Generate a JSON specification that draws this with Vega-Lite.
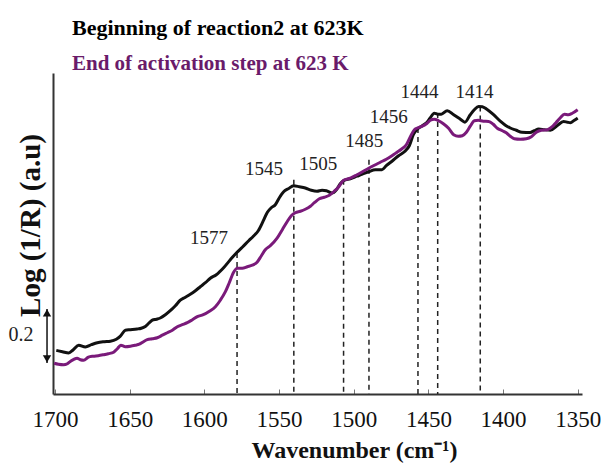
{
  "$schema": "https://vega.github.io/schema/vega-lite/v6.json",
  "width": 529,
  "height": 321,
  "autosize": "none",
  "padding": {"left": 53, "top": 73, "right": 29, "bottom": 69},
  "background": "white",
  "title": {
    "text": "Beginning of reaction2 at 623K",
    "subtitle": "End of activation step at 623 K",
    "anchor": "start",
    "frame": "group",
    "dx": 19,
    "offset": -2,
    "font": "Liberation Serif",
    "fontSize": 22,
    "fontWeight": "bold",
    "color": "#000000",
    "subtitleFont": "Liberation Serif",
    "subtitleFontSize": 21,
    "subtitleFontWeight": "bold",
    "subtitleColor": "#6A1B6A",
    "subtitlePadding": 13
  },
  "config": {"view": {"stroke": null}},
  "datasets": {
    "spectra": [
      {"wn": 1699.1, "val": 0.1615, "s": "Beginning"},
      {"wn": 1695.0, "val": 0.1567, "s": "Beginning"},
      {"wn": 1690.8, "val": 0.1519, "s": "Beginning"},
      {"wn": 1687.7, "val": 0.164, "s": "Beginning"},
      {"wn": 1684.1, "val": 0.1807, "s": "Beginning"},
      {"wn": 1679.6, "val": 0.1741, "s": "Beginning"},
      {"wn": 1675.6, "val": 0.1826, "s": "Beginning"},
      {"wn": 1671.6, "val": 0.19, "s": "Beginning"},
      {"wn": 1666.9, "val": 0.1937, "s": "Beginning"},
      {"wn": 1662.9, "val": 0.1956, "s": "Beginning"},
      {"wn": 1658.9, "val": 0.203, "s": "Beginning"},
      {"wn": 1656.2, "val": 0.2141, "s": "Beginning"},
      {"wn": 1652.9, "val": 0.2363, "s": "Beginning"},
      {"wn": 1649.5, "val": 0.2381, "s": "Beginning"},
      {"wn": 1645.0, "val": 0.2407, "s": "Beginning"},
      {"wn": 1642.2, "val": 0.2437, "s": "Beginning"},
      {"wn": 1639.5, "val": 0.2504, "s": "Beginning"},
      {"wn": 1636.8, "val": 0.2641, "s": "Beginning"},
      {"wn": 1634.8, "val": 0.2733, "s": "Beginning"},
      {"wn": 1632.1, "val": 0.277, "s": "Beginning"},
      {"wn": 1629.5, "val": 0.2815, "s": "Beginning"},
      {"wn": 1626.1, "val": 0.2937, "s": "Beginning"},
      {"wn": 1622.8, "val": 0.3085, "s": "Beginning"},
      {"wn": 1619.4, "val": 0.327, "s": "Beginning"},
      {"wn": 1616.1, "val": 0.3474, "s": "Beginning"},
      {"wn": 1612.7, "val": 0.3585, "s": "Beginning"},
      {"wn": 1609.4, "val": 0.3696, "s": "Beginning"},
      {"wn": 1606.0, "val": 0.3826, "s": "Beginning"},
      {"wn": 1602.7, "val": 0.3974, "s": "Beginning"},
      {"wn": 1599.3, "val": 0.4122, "s": "Beginning"},
      {"wn": 1596.0, "val": 0.4289, "s": "Beginning"},
      {"wn": 1592.0, "val": 0.4419, "s": "Beginning"},
      {"wn": 1587.1, "val": 0.4678, "s": "Beginning"},
      {"wn": 1582.6, "val": 0.4974, "s": "Beginning"},
      {"wn": 1578.1, "val": 0.5252, "s": "Beginning"},
      {"wn": 1574.6, "val": 0.5437, "s": "Beginning"},
      {"wn": 1570.3, "val": 0.5678, "s": "Beginning"},
      {"wn": 1567.2, "val": 0.5844, "s": "Beginning"},
      {"wn": 1563.9, "val": 0.6048, "s": "Beginning"},
      {"wn": 1560.5, "val": 0.6419, "s": "Beginning"},
      {"wn": 1557.8, "val": 0.6733, "s": "Beginning"},
      {"wn": 1555.2, "val": 0.69, "s": "Beginning"},
      {"wn": 1552.5, "val": 0.7011, "s": "Beginning"},
      {"wn": 1549.8, "val": 0.727, "s": "Beginning"},
      {"wn": 1546.9, "val": 0.7493, "s": "Beginning"},
      {"wn": 1543.8, "val": 0.7604, "s": "Beginning"},
      {"wn": 1540.2, "val": 0.7715, "s": "Beginning"},
      {"wn": 1536.4, "val": 0.7678, "s": "Beginning"},
      {"wn": 1532.4, "val": 0.763, "s": "Beginning"},
      {"wn": 1528.4, "val": 0.7548, "s": "Beginning"},
      {"wn": 1524.6, "val": 0.7511, "s": "Beginning"},
      {"wn": 1521.2, "val": 0.7548, "s": "Beginning"},
      {"wn": 1518.3, "val": 0.753, "s": "Beginning"},
      {"wn": 1514.5, "val": 0.7444, "s": "Beginning"},
      {"wn": 1511.6, "val": 0.7567, "s": "Beginning"},
      {"wn": 1509.0, "val": 0.7789, "s": "Beginning"},
      {"wn": 1506.8, "val": 0.79, "s": "Beginning"},
      {"wn": 1502.3, "val": 0.7974, "s": "Beginning"},
      {"wn": 1497.8, "val": 0.8067, "s": "Beginning"},
      {"wn": 1494.2, "val": 0.8141, "s": "Beginning"},
      {"wn": 1490.0, "val": 0.8233, "s": "Beginning"},
      {"wn": 1485.5, "val": 0.8307, "s": "Beginning"},
      {"wn": 1481.1, "val": 0.8307, "s": "Beginning"},
      {"wn": 1478.2, "val": 0.8456, "s": "Beginning"},
      {"wn": 1474.4, "val": 0.8622, "s": "Beginning"},
      {"wn": 1470.0, "val": 0.8826, "s": "Beginning"},
      {"wn": 1466.1, "val": 0.8974, "s": "Beginning"},
      {"wn": 1462.8, "val": 0.9196, "s": "Beginning"},
      {"wn": 1460.1, "val": 0.9604, "s": "Beginning"},
      {"wn": 1457.1, "val": 0.9826, "s": "Beginning"},
      {"wn": 1454.1, "val": 0.9937, "s": "Beginning"},
      {"wn": 1450.9, "val": 1.0067, "s": "Beginning"},
      {"wn": 1448.7, "val": 1.0233, "s": "Beginning"},
      {"wn": 1446.1, "val": 1.04, "s": "Beginning"},
      {"wn": 1443.7, "val": 1.0363, "s": "Beginning"},
      {"wn": 1441.4, "val": 1.0363, "s": "Beginning"},
      {"wn": 1437.4, "val": 1.0493, "s": "Beginning"},
      {"wn": 1433.1, "val": 1.0344, "s": "Beginning"},
      {"wn": 1428.6, "val": 1.0178, "s": "Beginning"},
      {"wn": 1425.6, "val": 1.0067, "s": "Beginning"},
      {"wn": 1422.0, "val": 1.0344, "s": "Beginning"},
      {"wn": 1419.3, "val": 1.053, "s": "Beginning"},
      {"wn": 1416.4, "val": 1.0652, "s": "Beginning"},
      {"wn": 1413.9, "val": 1.0641, "s": "Beginning"},
      {"wn": 1410.9, "val": 1.0548, "s": "Beginning"},
      {"wn": 1406.4, "val": 1.0344, "s": "Beginning"},
      {"wn": 1401.9, "val": 1.0104, "s": "Beginning"},
      {"wn": 1398.5, "val": 0.9956, "s": "Beginning"},
      {"wn": 1395.2, "val": 0.9852, "s": "Beginning"},
      {"wn": 1391.2, "val": 0.977, "s": "Beginning"},
      {"wn": 1387.4, "val": 0.9696, "s": "Beginning"},
      {"wn": 1381.8, "val": 0.9689, "s": "Beginning"},
      {"wn": 1379.1, "val": 0.9752, "s": "Beginning"},
      {"wn": 1376.2, "val": 0.9815, "s": "Beginning"},
      {"wn": 1372.4, "val": 0.9789, "s": "Beginning"},
      {"wn": 1368.4, "val": 0.977, "s": "Beginning"},
      {"wn": 1363.9, "val": 0.9937, "s": "Beginning"},
      {"wn": 1359.5, "val": 1.0096, "s": "Beginning"},
      {"wn": 1357.0, "val": 1.0067, "s": "Beginning"},
      {"wn": 1355.0, "val": 1.0048, "s": "Beginning"},
      {"wn": 1352.3, "val": 1.0141, "s": "Beginning"},
      {"wn": 1350.1, "val": 1.0222, "s": "Beginning"},
      {"wn": 1700.5, "val": 0.1141, "s": "End"},
      {"wn": 1697.7, "val": 0.1104, "s": "End"},
      {"wn": 1694.2, "val": 0.1085, "s": "End"},
      {"wn": 1691.7, "val": 0.1122, "s": "End"},
      {"wn": 1689.7, "val": 0.1207, "s": "End"},
      {"wn": 1685.2, "val": 0.1326, "s": "End"},
      {"wn": 1683.0, "val": 0.127, "s": "End"},
      {"wn": 1680.8, "val": 0.1252, "s": "End"},
      {"wn": 1677.6, "val": 0.1363, "s": "End"},
      {"wn": 1674.3, "val": 0.14, "s": "End"},
      {"wn": 1671.0, "val": 0.1419, "s": "End"},
      {"wn": 1667.4, "val": 0.1456, "s": "End"},
      {"wn": 1664.3, "val": 0.1493, "s": "End"},
      {"wn": 1660.7, "val": 0.1548, "s": "End"},
      {"wn": 1658.2, "val": 0.1678, "s": "End"},
      {"wn": 1655.9, "val": 0.1807, "s": "End"},
      {"wn": 1652.9, "val": 0.1752, "s": "End"},
      {"wn": 1649.5, "val": 0.177, "s": "End"},
      {"wn": 1646.2, "val": 0.1807, "s": "End"},
      {"wn": 1643.5, "val": 0.1844, "s": "End"},
      {"wn": 1640.8, "val": 0.1937, "s": "End"},
      {"wn": 1638.2, "val": 0.2011, "s": "End"},
      {"wn": 1634.8, "val": 0.2048, "s": "End"},
      {"wn": 1631.5, "val": 0.2085, "s": "End"},
      {"wn": 1628.1, "val": 0.2178, "s": "End"},
      {"wn": 1624.8, "val": 0.227, "s": "End"},
      {"wn": 1621.4, "val": 0.2363, "s": "End"},
      {"wn": 1618.1, "val": 0.2493, "s": "End"},
      {"wn": 1614.7, "val": 0.2567, "s": "End"},
      {"wn": 1611.4, "val": 0.2641, "s": "End"},
      {"wn": 1608.0, "val": 0.2752, "s": "End"},
      {"wn": 1604.7, "val": 0.2863, "s": "End"},
      {"wn": 1600.7, "val": 0.2937, "s": "End"},
      {"wn": 1596.6, "val": 0.3067, "s": "End"},
      {"wn": 1592.6, "val": 0.3233, "s": "End"},
      {"wn": 1589.3, "val": 0.3474, "s": "End"},
      {"wn": 1585.9, "val": 0.3789, "s": "End"},
      {"wn": 1583.3, "val": 0.4122, "s": "End"},
      {"wn": 1580.4, "val": 0.4511, "s": "End"},
      {"wn": 1577.9, "val": 0.4659, "s": "End"},
      {"wn": 1574.6, "val": 0.4659, "s": "End"},
      {"wn": 1571.2, "val": 0.4715, "s": "End"},
      {"wn": 1567.9, "val": 0.477, "s": "End"},
      {"wn": 1564.7, "val": 0.4881, "s": "End"},
      {"wn": 1561.8, "val": 0.5122, "s": "End"},
      {"wn": 1559.2, "val": 0.5344, "s": "End"},
      {"wn": 1555.8, "val": 0.5493, "s": "End"},
      {"wn": 1551.3, "val": 0.577, "s": "End"},
      {"wn": 1547.8, "val": 0.6085, "s": "End"},
      {"wn": 1544.6, "val": 0.6381, "s": "End"},
      {"wn": 1541.8, "val": 0.6604, "s": "End"},
      {"wn": 1539.1, "val": 0.6715, "s": "End"},
      {"wn": 1535.7, "val": 0.677, "s": "End"},
      {"wn": 1532.4, "val": 0.6844, "s": "End"},
      {"wn": 1529.0, "val": 0.6956, "s": "End"},
      {"wn": 1526.4, "val": 0.7085, "s": "End"},
      {"wn": 1523.0, "val": 0.7233, "s": "End"},
      {"wn": 1519.7, "val": 0.7289, "s": "End"},
      {"wn": 1516.3, "val": 0.7363, "s": "End"},
      {"wn": 1513.0, "val": 0.7511, "s": "End"},
      {"wn": 1510.0, "val": 0.7678, "s": "End"},
      {"wn": 1506.8, "val": 0.7919, "s": "End"},
      {"wn": 1502.3, "val": 0.7993, "s": "End"},
      {"wn": 1497.8, "val": 0.8122, "s": "End"},
      {"wn": 1494.2, "val": 0.8233, "s": "End"},
      {"wn": 1490.0, "val": 0.8363, "s": "End"},
      {"wn": 1486.2, "val": 0.8474, "s": "End"},
      {"wn": 1482.2, "val": 0.8585, "s": "End"},
      {"wn": 1478.2, "val": 0.8696, "s": "End"},
      {"wn": 1474.4, "val": 0.8826, "s": "End"},
      {"wn": 1471.0, "val": 0.8956, "s": "End"},
      {"wn": 1468.1, "val": 0.9067, "s": "End"},
      {"wn": 1464.8, "val": 0.9233, "s": "End"},
      {"wn": 1462.1, "val": 0.953, "s": "End"},
      {"wn": 1459.4, "val": 0.9789, "s": "End"},
      {"wn": 1456.8, "val": 0.9863, "s": "End"},
      {"wn": 1454.1, "val": 0.9919, "s": "End"},
      {"wn": 1450.9, "val": 1.003, "s": "End"},
      {"wn": 1448.7, "val": 1.0141, "s": "End"},
      {"wn": 1446.1, "val": 1.0178, "s": "End"},
      {"wn": 1443.2, "val": 1.0122, "s": "End"},
      {"wn": 1440.0, "val": 1.0011, "s": "End"},
      {"wn": 1436.5, "val": 0.9844, "s": "End"},
      {"wn": 1433.1, "val": 0.9604, "s": "End"},
      {"wn": 1430.0, "val": 0.9548, "s": "End"},
      {"wn": 1427.3, "val": 0.9567, "s": "End"},
      {"wn": 1424.6, "val": 0.9696, "s": "End"},
      {"wn": 1422.0, "val": 0.9919, "s": "End"},
      {"wn": 1419.3, "val": 1.0122, "s": "End"},
      {"wn": 1416.6, "val": 1.0141, "s": "End"},
      {"wn": 1413.3, "val": 1.0104, "s": "End"},
      {"wn": 1409.7, "val": 1.0096, "s": "End"},
      {"wn": 1406.6, "val": 0.9993, "s": "End"},
      {"wn": 1403.9, "val": 0.9844, "s": "End"},
      {"wn": 1400.5, "val": 0.9752, "s": "End"},
      {"wn": 1397.9, "val": 0.9678, "s": "End"},
      {"wn": 1395.2, "val": 0.9548, "s": "End"},
      {"wn": 1392.5, "val": 0.9456, "s": "End"},
      {"wn": 1388.5, "val": 0.9437, "s": "End"},
      {"wn": 1384.5, "val": 0.9456, "s": "End"},
      {"wn": 1381.1, "val": 0.953, "s": "End"},
      {"wn": 1377.8, "val": 0.9696, "s": "End"},
      {"wn": 1374.4, "val": 0.977, "s": "End"},
      {"wn": 1370.4, "val": 0.9789, "s": "End"},
      {"wn": 1367.1, "val": 0.99, "s": "End"},
      {"wn": 1364.4, "val": 1.0067, "s": "End"},
      {"wn": 1361.7, "val": 1.0233, "s": "End"},
      {"wn": 1359.0, "val": 1.0363, "s": "End"},
      {"wn": 1356.4, "val": 1.0344, "s": "End"},
      {"wn": 1353.7, "val": 1.04, "s": "End"},
      {"wn": 1350.1, "val": 1.053, "s": "End"}
    ],
    "peaks": [
      {"wn": 1578.1, "top": 0.522, "label": "1577", "lwn": 1596.9, "lval": 0.578},
      {"wn": 1540.1, "top": 0.794, "label": "1545", "lwn": 1560.0, "lval": 0.832},
      {"wn": 1506.8, "top": 0.794, "label": "1505", "lwn": 1523.7, "lval": 0.851},
      {"wn": 1489.8, "top": 0.868, "label": "1485", "lwn": 1493.0, "lval": 0.936},
      {"wn": 1457.0, "top": 0.985, "label": "1456", "lwn": 1476.6, "lval": 1.027},
      {"wn": 1443.8, "top": 1.041, "label": "1444", "lwn": 1456.0, "lval": 1.119},
      {"wn": 1415.3, "top": 1.065, "label": "1414", "lwn": 1419.1, "lval": 1.119}
    ],
    "scalebar": [
      {"wn": 1705.3, "lo": 0.115, "hi": 0.315, "mid": 0.2196, "twn": 1722.7, "label": "0.2"}
    ]
  },
  "encoding": {
    "x": {
      "field": "wn",
      "type": "quantitative",
      "scale": {"domain": [1347.2, 1701.3], "reverse": true, "nice": false, "zero": false},
      "axis": {
        "title": "Wavenumber (cm⁻¹)",
        "values": [1700, 1650, 1600, 1550, 1500, 1450, 1400, 1350],
        "format": "d",
        "grid": false,
        "labelFont": "Liberation Serif",
        "labelFontSize": 23,
        "labelColor": "#111111",
        "labelOverlap": false,
        "labelFlush": false,
        "labelBaseline": "alphabetic",
        "labelPadding": 37,
        "tickSize": -5,
        "tickColor": "#777777",
        "tickWidth": 1,
        "domainColor": "#333333",
        "domainWidth": 2,
        "titleFont": "Liberation Serif",
        "titleFontSize": 24,
        "titleFontWeight": "bold",
        "titleColor": "#111111",
        "titleBaseline": "alphabetic",
        "titleX": 301,
        "titleY": 63,
        "titleAnchor": null
      }
    },
    "y": {
      "field": "val",
      "type": "quantitative",
      "scale": {"domain": [0, 1.189], "nice": false, "zero": false},
      "axis": {
        "title": "Log  (1/R)  (a.u)",
        "ticks": false,
        "labels": false,
        "grid": false,
        "domainColor": "#333333",
        "domainWidth": 2,
        "titleFont": "Liberation Serif",
        "titleFontSize": 29,
        "titleFontWeight": "bold",
        "titleColor": "#111111",
        "titlePadding": 8,
        "titleAnchor": null,
        "titleAlign": "center",
        "titleY": 152
      }
    }
  },
  "layer": [
    {
      "data": {"name": "peaks"},
      "mark": {"type": "rule", "strokeDash": [5, 4], "strokeWidth": 1.5, "color": "#222222"},
      "encoding": {
        "x": {"field": "wn", "type": "quantitative"},
        "y": {"field": "top", "type": "quantitative"},
        "y2": {"datum": 0}
      }
    },
    {
      "data": {"name": "spectra"},
      "transform": [{"filter": "datum.s === 'Beginning'"}],
      "mark": {"type": "line", "strokeWidth": 3, "color": "#111111", "interpolate": "monotone"},
      "encoding": {}
    },
    {
      "data": {"name": "spectra"},
      "transform": [{"filter": "datum.s === 'End'"}],
      "mark": {"type": "line", "strokeWidth": 3, "color": "#7A1A7A", "interpolate": "monotone"},
      "encoding": {}
    },
    {
      "data": {"name": "peaks"},
      "mark": {"type": "text", "font": "Liberation Serif", "fontSize": 19, "color": "#222222", "baseline": "middle", "align": "center"},
      "encoding": {
        "x": {"field": "lwn", "type": "quantitative"},
        "y": {"field": "lval", "type": "quantitative"},
        "text": {"field": "label"}
      }
    },
    {
      "data": {"name": "scalebar"},
      "mark": {"type": "rule", "strokeWidth": 1.5, "color": "#111111"},
      "encoding": {"y": {"field": "lo", "type": "quantitative"}, "y2": {"field": "hi"}}
    },
    {
      "data": {"name": "scalebar"},
      "mark": {"type": "point", "shape": "triangle-up", "filled": true, "size": 70, "color": "#111111", "opacity": 1, "yOffset": 4},
      "encoding": {"y": {"field": "hi", "type": "quantitative"}}
    },
    {
      "data": {"name": "scalebar"},
      "mark": {"type": "point", "shape": "triangle-down", "filled": true, "size": 70, "color": "#111111", "opacity": 1, "yOffset": -4},
      "encoding": {"y": {"field": "lo", "type": "quantitative"}}
    },
    {
      "data": {"name": "scalebar"},
      "mark": {"type": "text", "font": "Liberation Serif", "fontSize": 20, "color": "#222222", "baseline": "middle", "align": "center"},
      "encoding": {
        "x": {"field": "twn", "type": "quantitative"},
        "y": {"field": "mid", "type": "quantitative"},
        "text": {"field": "label"}
      }
    }
  ]
}
